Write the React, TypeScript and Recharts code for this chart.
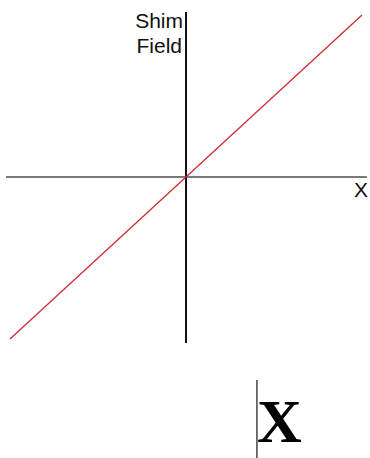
import React from 'react';
import { LineChart, Line, XAxis, YAxis, ReferenceLine } from 'recharts';

const xValues = [-1, 0, 1];
const fieldValues = [-1, 0, 1];
const yAxisLabelLines = ['Shim', 'Field'];
const xAxisLabel = 'X';
const bottomLabel = 'X';

const data = xValues.map((x, i) => ({ x, field: fieldValues[i] }));

export default function App() {
  return (
    <div style={{ position: 'absolute', left: 0, top: 0, width: 370, height: 458, background: '#fff' }}>
      <LineChart width={370} height={458} data={data} margin={{ top: 15, right: 8, bottom: 119, left: 10 }}>
        <XAxis type="number" dataKey="x" domain={[-1, 1]} hide />
        <YAxis type="number" domain={[-1, 1]} hide />
        <ReferenceLine
          segment={[{ x: -1.023, y: 0 }, { x: 1.028, y: 0 }]}
          stroke="#7a7a7a"
          strokeWidth={2}
          ifOverflow="visible"
        />
        <ReferenceLine
          segment={[{ x: 0, y: 1.019 }, { x: 0, y: -1.025 }]}
          stroke="#111"
          strokeWidth={2}
          ifOverflow="visible"
        />
        <ReferenceLine
          segment={[{ x: 0.403, y: -1.253 }, { x: 0.403, y: -1.74 }]}
          stroke="#444"
          strokeWidth={1.5}
          ifOverflow="visible"
        />
        <Line
          type="linear"
          dataKey="field"
          stroke="#d42a35"
          strokeWidth={1.3}
          dot={false}
          isAnimationActive={false}
        />
        <text x={183} y={28} textAnchor="end" fontFamily="'Liberation Sans', Arial, sans-serif" fontSize={21} fill="#111">
          {yAxisLabelLines[0]}
        </text>
        <text x={182} y={53} textAnchor="end" fontFamily="'Liberation Sans', Arial, sans-serif" fontSize={21} fill="#111">
          {yAxisLabelLines[1]}
        </text>
        <text x={354} y={197} fontFamily="'Liberation Sans', Arial, sans-serif" fontSize={21} fill="#111">
          {xAxisLabel}
        </text>
        <text x={257} y={442} fontFamily="'Liberation Serif', 'Times New Roman', serif" fontWeight="bold" fontSize={62} fill="#000">
          {bottomLabel}
        </text>
      </LineChart>
    </div>
  );
}
